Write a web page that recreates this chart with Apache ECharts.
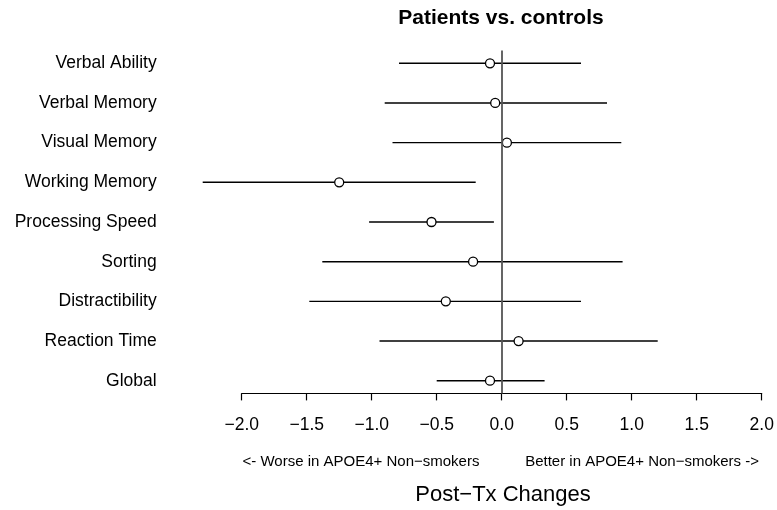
<!DOCTYPE html>
<html>
<head>
<meta charset="utf-8">
<script src="https://cdn.jsdelivr.net/npm/echarts@6/dist/echarts.min.js"></script>
<style>
  html, body { margin: 0; padding: 0; background: #fff; }
  #chart { width: 777px; height: 510px; }
</style>
</head>
<body>
<div id="chart"></div>
<script>
// outcomes, top to bottom
const categories = ['Verbal Ability', 'Verbal Memory', 'Visual Memory', 'Working Memory',
  'Processing Speed', 'Sorting', 'Distractibility', 'Reaction Time', 'Global'];
const estimates = [-0.09, -0.05, 0.04, -1.25, -0.54, -0.22, -0.43, 0.13, -0.09];
const lower = [-0.79, -0.90, -0.84, -2.30, -1.02, -1.38, -1.48, -0.94, -0.50];
const upper = [0.61, 0.81, 0.92, -0.20, -0.06, 0.93, 0.61, 1.20, 0.33];
const xTicks = [-2, -1.5, -1, -0.5, 0, 0.5, 1, 1.5, 2];
const rowPos = [9, 8, 7, 6, 5, 4, 3, 2, 1];

const font = '"Liberation Sans", Arial, Helvetica, sans-serif';
const fmt = v => (v < 0 ? '\u2212' : '') + Math.abs(v).toFixed(1);

const chart = echarts.init(document.getElementById('chart'));

chart.setOption({
  animation: false,
  backgroundColor: '#fff',
  grid: {
    left: 241.7, right: 15.3, top: 50.6, bottom: 116.6,
    containLabel: false, outerBoundsMode: 'none'
  },
  xAxis: {
    type: 'value',
    min: -2, max: 2, interval: 0.5,
    axisLine: { show: true, lineStyle: { color: '#000', width: 1.2 } },
    axisTick: { show: true, length: 7, customValues: xTicks, lineStyle: { color: '#000', width: 1.2 } },
    axisLabel: {
      customValues: xTicks, formatter: fmt,
      fontSize: 17.5, color: '#000', fontFamily: font, margin: 23
    },
    splitLine: { show: false }
  },
  yAxis: {
    type: 'value',
    min: 0.68, max: 9.32,
    axisLine: { show: false },
    axisTick: { show: false },
    splitLine: { show: false },
    axisLabel: {
      customValues: rowPos,
      formatter: v => categories[rowPos.indexOf(Math.round(v))],
      fontSize: 17.5, color: '#000', fontFamily: font, margin: 85
    }
  },
  series: [
    {
      type: 'custom',
      clip: false,
      data: categories.map((c, i) => [lower[i], upper[i], rowPos[i]]),
      renderItem: (params, api) => {
        const a = api.coord([api.value(0), api.value(2)]);
        const b = api.coord([api.value(1), api.value(2)]);
        return {
          type: 'line',
          shape: { x1: a[0], y1: a[1], x2: b[0], y2: b[1] },
          style: { stroke: '#000', lineWidth: 1.4 }
        };
      },
      markLine: {
        silent: true,
        symbol: 'none',
        label: { show: false },
        lineStyle: { color: '#555', width: 1.8, type: 'solid' },
        data: [{ xAxis: 0 }]
      },
      z: 2
    },
    {
      type: 'scatter',
      data: categories.map((c, i) => [estimates[i], rowPos[i]]),
      symbol: 'circle',
      symbolSize: 9,
      itemStyle: { color: '#fff', borderColor: '#000', borderWidth: 1.3, opacity: 1 },
      z: 3
    }
  ],
  graphic: [
    {
      type: 'text', x: 501, y: 18,
      style: {
        text: 'Patients vs. controls', font: 'bold 21px ' + font,
        fill: '#000', textAlign: 'center', textVerticalAlign: 'middle'
      }
    },
    {
      type: 'text', x: 242.5, y: 462,
      style: {
        text: '<- Worse in APOE4+ Non\u2212smokers', font: '15px ' + font,
        fill: '#000', textAlign: 'left', textVerticalAlign: 'middle'
      }
    },
    {
      type: 'text', x: 759, y: 462,
      style: {
        text: 'Better in APOE4+ Non\u2212smokers ->', font: '15px ' + font,
        fill: '#000', textAlign: 'right', textVerticalAlign: 'middle'
      }
    },
    {
      type: 'text', x: 503, y: 495,
      style: {
        text: 'Post\u2212Tx Changes', font: '22px ' + font,
        fill: '#000', textAlign: 'center', textVerticalAlign: 'middle'
      }
    }
  ]
});
</script>
</body>
</html>
